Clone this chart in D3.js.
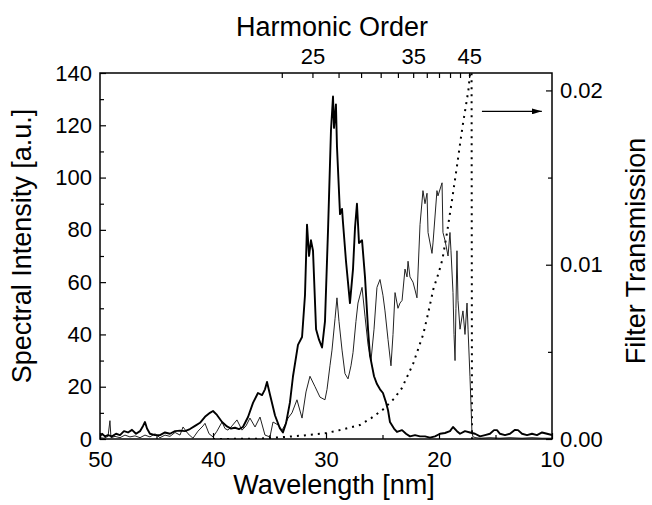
<!DOCTYPE html>
<html>
<head>
<meta charset="utf-8">
<script src="https://cdn.jsdelivr.net/npm/d3@7"></script>
<style>
  body { margin: 0; background: #fff; }
  svg text { font-family: "Liberation Sans", Arial, Helvetica, sans-serif; fill: #000; }
</style>
</head>
<body>
<div id="chart"></div>
<script>
// spectrum 1 (thick line): [wavelength nm, intensity a.u.]
const spec_thick = [
  [50.00,1.0],[49.82,2.0],[49.56,1.0],[49.29,1.5],[48.94,1.0],[48.58,2.0],[48.23,1.5],[47.88,3.0],
  [47.52,2.5],[47.17,3.5],[46.81,2.0],[46.46,3.0],[46.19,5.0],[46.02,6.5],[45.84,4.0],[45.58,2.0],
  [45.13,1.5],[44.69,1.5],[44.25,2.5],[43.81,2.0],[43.36,3.0],[42.92,3.2],[42.48,3.0],[42.04,3.8],
  [41.59,5.0],[41.15,6.2],[40.71,8.5],[40.27,10.0],[40.00,10.7],[39.65,9.2],[39.20,6.5],[38.76,4.8],
  [38.41,4.0],[38.05,4.3],[37.70,3.8],[37.35,4.6],[36.90,8.4],[36.46,13.8],[36.02,17.6],[35.66,16.8],
  [35.40,19.0],[35.22,21.8],[34.96,17.0],[34.51,9.0],[34.07,4.0],[33.81,2.5],[33.54,6.0],[33.19,14.0],
  [32.92,24.0],[32.48,36.0],[32.12,39.0],[31.86,55.0],[31.68,82.0],[31.50,70.0],[31.33,76.0],[31.15,72.0],
  [30.88,42.0],[30.62,38.0],[30.35,35.0],[30.09,45.0],[29.82,80.0],[29.56,118.0],[29.38,131.0],[29.29,119.0],
  [29.12,128.0],[29.03,112.0],[28.76,86.0],[28.58,88.0],[28.50,83.0],[28.23,68.0],[27.88,52.0],[27.61,65.0],
  [27.43,81.0],[27.26,90.0],[27.08,75.0],[26.81,76.0],[26.55,62.0],[26.28,42.0],[26.11,32.0],[25.75,24.0],
  [25.49,21.0],[25.22,19.0],[24.96,17.6],[24.69,14.0],[24.51,11.0],[24.34,6.5],[23.98,4.0],[23.72,2.7],
  [23.27,3.4],[22.92,2.0],[22.57,1.0],[22.12,1.5],[21.68,1.0],[21.24,1.0],[20.80,0.5],[20.35,1.0],
  [19.91,2.0],[19.47,2.3],[19.03,3.0],[18.76,4.6],[18.41,3.0],[18.14,2.0],[17.70,3.0],[17.26,2.5],
  [16.81,2.0],[16.37,1.0],[15.93,1.5],[15.49,2.0],[15.13,3.4],[14.87,3.4],[14.60,2.0],[14.16,1.5],
  [13.72,2.0],[13.27,3.5],[13.01,3.4],[12.65,2.0],[12.21,1.5],[11.77,2.0],[11.33,1.5],[10.88,2.5],
  [10.44,2.0],[10.00,1.5]
];

// spectrum 2 (thin line), cut off by the filter edge
const spec_thin = [
  [50.00,0.5],[49.65,0.3],[49.29,1.0],[49.12,7.0],[49.03,0.5],[48.67,1.0],[48.23,0.5],[47.79,1.5],
  [47.35,0.8],[46.90,1.2],[46.46,0.5],[46.02,1.5],[45.58,0.8],[45.13,2.0],[44.69,0.5],[44.25,1.5],
  [43.81,1.0],[43.36,2.5],[42.92,1.5],[42.65,4.6],[42.21,2.0],[41.77,0.3],[41.33,3.0],[40.88,5.0],
  [40.71,6.0],[40.35,2.0],[40.00,0.8],[39.65,3.0],[39.20,6.5],[38.94,4.0],[38.67,3.4],[38.32,5.0],
  [37.88,7.3],[37.43,3.4],[37.08,5.0],[36.73,8.0],[36.28,4.6],[35.84,8.4],[35.40,1.5],[34.96,0.8],
  [34.69,6.5],[34.25,5.4],[33.89,3.4],[33.63,5.4],[33.36,8.0],[33.01,10.0],[32.57,15.0],[32.12,8.0],
  [31.77,18.0],[31.42,24.0],[30.97,20.0],[30.53,16.0],[30.09,15.0],[29.91,19.0],[29.65,28.0],[29.47,34.0],
  [29.20,46.0],[29.03,54.0],[28.85,45.0],[28.58,34.0],[28.32,25.0],[28.05,23.0],[27.79,28.0],[27.61,33.0],
  [27.35,45.0],[27.17,52.0],[26.81,58.0],[26.55,47.0],[26.28,36.0],[26.02,30.0],[25.75,42.0],[25.49,58.0],
  [25.22,61.0],[24.96,55.0],[24.78,49.0],[24.51,38.0],[24.25,28.0],[24.07,40.0],[23.89,56.0],[23.63,50.0],
  [23.45,52.0],[23.27,53.0],[23.01,65.0],[22.83,62.0],[22.74,68.0],[22.57,62.0],[22.30,60.0],[22.12,57.0],
  [21.95,54.0],[21.68,82.0],[21.42,95.0],[21.24,90.0],[21.06,94.0],[20.97,79.0],[20.62,71.0],[20.53,75.0],
  [20.18,95.0],[20.09,93.0],[19.73,98.0],[19.65,79.0],[19.47,76.0],[19.20,70.0],[19.03,79.0],[18.94,72.0],
  [18.76,56.0],[18.67,40.0],[18.58,30.0],[18.50,50.0],[18.41,72.0],[18.32,53.0],[18.14,42.0],[17.88,49.0],
  [17.70,40.0],[17.52,52.0],[17.43,42.0],[17.26,24.0],[17.08,2.3],[16.99,0.8],[16.73,0.5],[16.37,0.3],
  [15.49,0.5],[14.60,0.3],[13.72,0.5],[12.65,0.3],[11.77,0.5],[10.88,0.3],[10.00,0.3]
];

// filter transmission (dotted, right axis)
const filter_trans = [
  [40.0,0.0],[36.0,0.00002],[34.0,0.0001],[32.0,0.0002],[30.0,0.00034],[28.5,0.00055],[27.0,0.0008],
  [26.0,0.0012],[25.0,0.00167],[24.0,0.0023],[23.3,0.0029],[22.3,0.0043],[21.4,0.0060],[21.0,0.0071],
  [20.5,0.0086],[20.0,0.0096],[19.7,0.0103],[19.3,0.0118],[18.85,0.0137],[18.4,0.0157],[18.1,0.0171],
  [17.9,0.0180],[17.6,0.0192],[17.4,0.0200],[17.25,0.0210],[17.12,0.0225],[17.08,0.0],[16.9,0.0]
];

const wl_ticks = [50, 40, 30, 20, 10];
const wl_minor = [45, 35, 25, 15];
const int_ticks = [0, 20, 40, 60, 80, 100, 120, 140];
const int_minor = [10, 30, 50, 70, 90, 110, 130];
const trans_ticks = [0, 0.01, 0.02];
const trans_minor = [0.005, 0.015];
const harm_ticks = [23, 25, 27, 29, 31, 33, 35, 37, 39, 41, 43, 45];
const harm_labels = [25, 35, 45];
const laser_wl = 780; // nm, wavelength = laser_wl / order

const width = 652, height = 505;
const m = {left: 100, right: 100, top: 73, bottom: 66};

const svg = d3.select("#chart").append("svg")
  .attr("width", width)
  .attr("height", height);

const x = d3.scaleLinear().domain([50, 10]).range([m.left, width - m.right]);
const y = d3.scaleLinear().domain([0, 140]).range([height - m.bottom, m.top]);
const yr = d3.scaleLinear().domain([0, 0.021]).range([height - m.bottom, m.top]);

svg.append("clipPath").attr("id", "plot-clip")
  .append("rect")
    .attr("x", m.left).attr("y", m.top)
    .attr("width", width - m.left - m.right)
    .attr("height", height - m.top - m.bottom);

const plot = svg.append("g").attr("clip-path", "url(#plot-clip)");

const line = d3.line().x(d => x(d[0])).y(d => y(d[1]));
const line_r = d3.line().x(d => x(d[0])).y(d => yr(d[1]));

plot.append("path").datum(filter_trans)
  .attr("d", line_r)
  .attr("fill", "none")
  .attr("stroke", "#000")
  .attr("stroke-width", 2)
  .attr("stroke-dasharray", "2,5");

plot.append("path").datum(spec_thin)
  .attr("d", line)
  .attr("fill", "none")
  .attr("stroke", "#222")
  .attr("stroke-width", 1)
  .attr("stroke-linejoin", "round");

plot.append("path").datum(spec_thick)
  .attr("d", line)
  .attr("fill", "none")
  .attr("stroke", "#000")
  .attr("stroke-width", 1.9)
  .attr("stroke-linejoin", "round");

// axes, all ticks point inward
function style_axis(g, font_size){
  g.select(".domain").remove();
  g.selectAll(".tick line").attr("stroke", "#000").attr("stroke-width", 1.2);
  g.selectAll(".tick text").attr("font-size", font_size).attr("fill", "#000");
}

const bottom_y = height - m.bottom, right_x = width - m.right;

svg.append("g").attr("transform", `translate(0,${bottom_y})`)
  .call(d3.axisBottom(x).tickValues(wl_ticks).tickSizeInner(-6).tickSizeOuter(0).tickPadding(12).tickFormat(d3.format("d")))
  .call(g => style_axis(g, "22px"));
svg.append("g").attr("transform", `translate(0,${bottom_y})`)
  .call(d3.axisBottom(x).tickValues(wl_minor).tickSizeInner(-4).tickSizeOuter(0).tickFormat(""))
  .call(g => style_axis(g, "0px"));

svg.append("g").attr("transform", `translate(${m.left},0)`)
  .call(d3.axisLeft(y).tickValues(int_ticks).tickSizeInner(-6).tickSizeOuter(0).tickPadding(8))
  .call(g => style_axis(g, "22px"));
svg.append("g").attr("transform", `translate(${m.left},0)`)
  .call(d3.axisLeft(y).tickValues(int_minor).tickSizeInner(-4).tickSizeOuter(0).tickFormat(""))
  .call(g => style_axis(g, "0px"));

svg.append("g").attr("transform", `translate(${right_x},0)`)
  .call(d3.axisRight(yr).tickValues(trans_ticks).tickSizeInner(-6).tickSizeOuter(0).tickPadding(8).tickFormat(d3.format(".2f")))
  .call(g => style_axis(g, "22px"));
svg.append("g").attr("transform", `translate(${right_x},0)`)
  .call(d3.axisRight(yr).tickValues(trans_minor).tickSizeInner(-4).tickSizeOuter(0).tickFormat(""))
  .call(g => style_axis(g, "0px"));

// top axis: harmonic order placed at laser_wl / q
svg.append("g").attr("transform", `translate(0,${m.top})`)
  .call(d3.axisTop(x).tickValues(harm_ticks.map(q => laser_wl / q)).tickSizeInner(-5).tickSizeOuter(0).tickPadding(9)
    .tickFormat(d => { let q = Math.round(laser_wl / d); return harm_labels.includes(q) ? q : ""; }))
  .call(g => style_axis(g, "22px"));

// frame
svg.append("rect")
  .attr("x", m.left).attr("y", m.top)
  .attr("width", width - m.left - m.right)
  .attr("height", height - m.top - m.bottom)
  .attr("fill", "none")
  .attr("stroke", "#000")
  .attr("stroke-width", 1.5);

// arrow pointing to the right axis
svg.append("defs").append("marker")
  .attr("id", "arrow-head")
  .attr("viewBox", "0 0 10 6")
  .attr("refX", 10).attr("refY", 3)
  .attr("markerWidth", 10).attr("markerHeight", 6)
  .attr("markerUnits", "userSpaceOnUse")
  .attr("orient", "auto")
  .append("path").attr("d", "M0,0L10,3L0,6Z").attr("fill", "#000");

svg.append("line")
  .attr("x1", x(16.2)).attr("x2", x(10.9))
  .attr("y1", yr(0.0188)).attr("y2", yr(0.0188))
  .attr("stroke", "#000").attr("stroke-width", 1.2)
  .attr("marker-end", "url(#arrow-head)");

// titles
svg.append("text")
  .attr("x", 334).attr("y", 494)
  .attr("text-anchor", "middle").attr("font-size", "27px")
  .text("Wavelength [nm]");

svg.append("text")
  .attr("x", 332).attr("y", 36)
  .attr("text-anchor", "middle").attr("font-size", "27px")
  .text("Harmonic Order");

svg.append("text")
  .attr("transform", "translate(31,246) rotate(-90)")
  .attr("text-anchor", "middle").attr("font-size", "27px")
  .text("Spectral Intensity [a.u.]");

svg.append("text")
  .attr("transform", "translate(645,251) rotate(-90)")
  .attr("text-anchor", "middle").attr("font-size", "27px")
  .text("Filter Transmission");
</script>
</body>
</html>
